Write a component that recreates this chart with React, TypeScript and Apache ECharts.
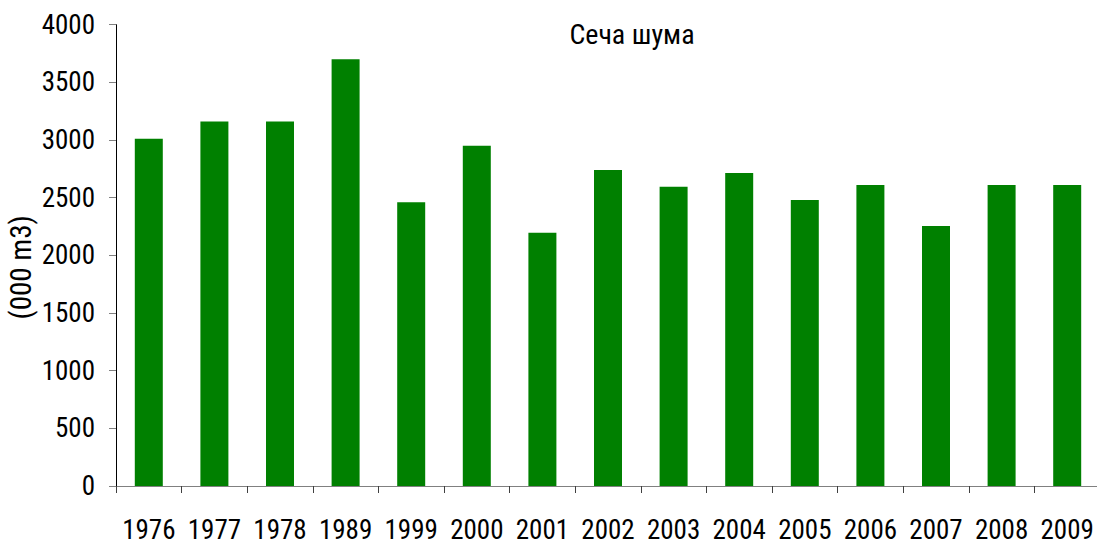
import React, { useEffect, useRef } from "react";
import * as echarts from "echarts";

const years = ["1976", "1977", "1978", "1989", "1999", "2000", "2001", "2002", "2003", "2004", "2005", "2006", "2007", "2008", "2009"];
const harvest = [3010, 3160, 3160, 3700, 2460, 2950, 2195, 2740, 2595, 2715, 2480, 2610, 2255, 2610, 2610];
const titleText = "Сеча шума";
const yAxisName = "(000 m3)";

const FONT = "'Roboto Condensed', 'DejaVu Sans Condensed', 'Liberation Sans Narrow', 'Liberation Sans', sans-serif";

export default function App() {
  const ref = useRef<HTMLDivElement>(null);
  useEffect(() => {
    if (!ref.current) return;
    const chart = echarts.init(ref.current, undefined, { renderer: "svg" });
    chart.setOption({
      animation: false,
      backgroundColor: "#ffffff",
      textStyle: { fontFamily: FONT },
      title: {
        text: titleText,
        left: 627,
        top: 15,
        textAlign: "center",
        textStyle: { fontFamily: FONT, fontSize: 28, fontWeight: "normal", color: "#000" },
      },
      grid: { left: 116, right: -3, top: 24.7, bottom: 60, containLabel: false, outerBoundsMode: "none" },
      xAxis: {
        type: "category",
        data: years,
        axisLine: { show: true, lineStyle: { color: "#808080", width: 1 } },
        axisTick: { show: true, alignWithLabel: false, length: 7, lineStyle: { color: "#404040" } },
        axisLabel: { color: "#000", fontSize: 27, margin: 30, fontFamily: FONT, interval: 0 },
      },
      yAxis: {
        type: "value",
        min: 0,
        max: 4000,
        interval: 500,
        name: yAxisName,
        nameLocation: "middle",
        nameGap: 81,
        nameRotate: 90,
        nameMoveOverlap: false,
        nameTextStyle: { color: "#000", fontSize: 29, fontFamily: FONT, padding: [0, 24, 0, 0] },
        axisLine: { show: true, lineStyle: { color: "#000", width: 1 } },
        axisTick: { show: true, length: 7, lineStyle: { color: "#808080" } },
        axisLabel: {
          color: "#000",
          fontSize: 27,
          margin: 21,
          fontFamily: FONT,
          formatter: (v: number) => String(v),
        },
        splitLine: { show: false },
      },
      series: [
        {
          type: "bar",
          data: harvest,
          barWidth: 28,
          itemStyle: { color: "#008000" },
        },
      ],
    });
    return () => chart.dispose();
  }, []);
  return (
    <>
      <style>{"#chartbox text { font-stretch: condensed; }"}</style>
      <div
        id="chartbox"
        ref={ref}
        style={{ position: "fixed", left: 0, top: 0, width: 1097, height: 546, background: "#fff" }}
      />
    </>
  );
}
